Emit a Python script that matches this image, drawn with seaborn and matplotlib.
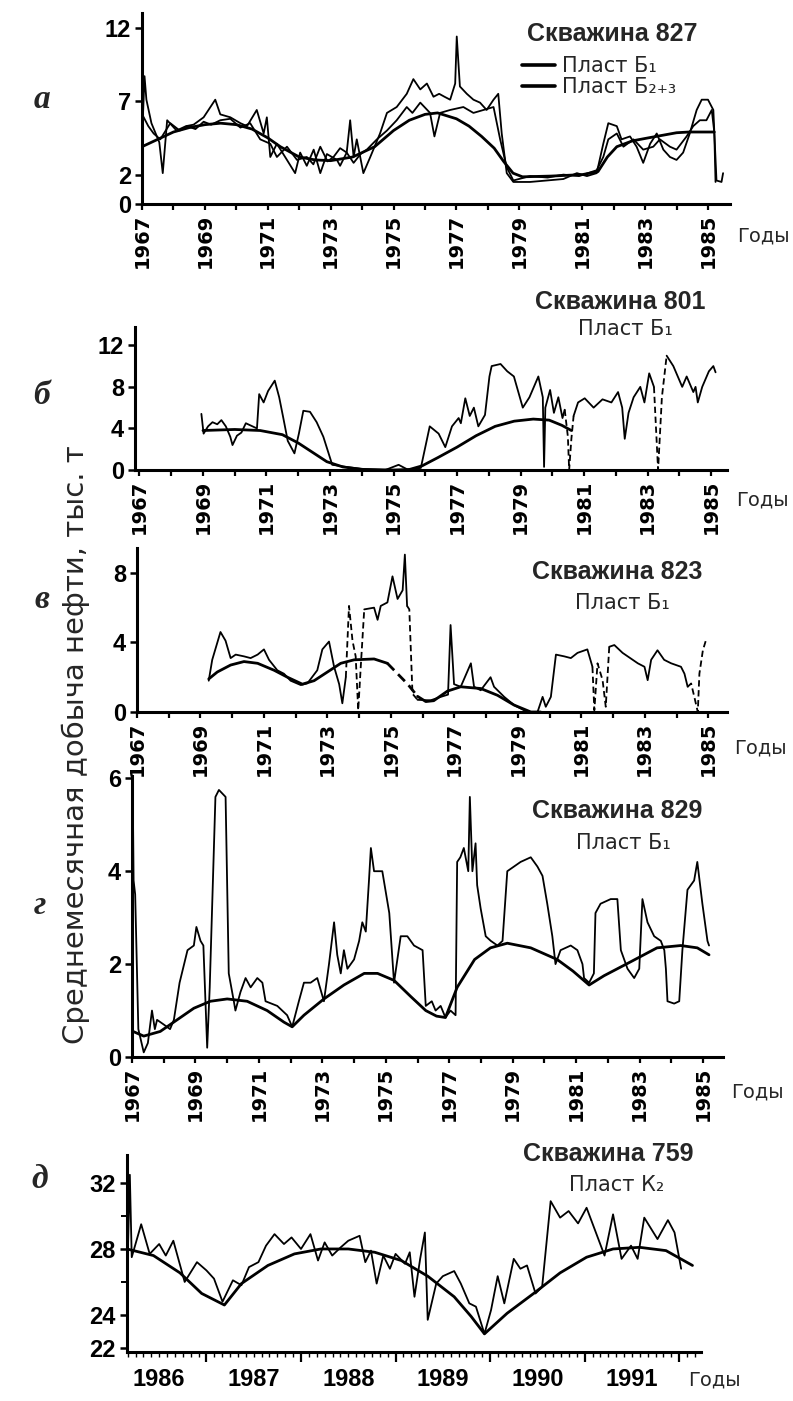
import numpy as np
import matplotlib
matplotlib.use("Agg")
import matplotlib.pyplot as plt
import seaborn as sns
from matplotlib.lines import Line2D
from matplotlib.ticker import FuncFormatter

# ---------------- data (year, value) ----------------
# Panel а: well 827
a_b1 = [(1967.03, 6.0), (1967.08, 8.7), (1967.14, 7.1), (1967.3, 5.5), (1967.55, 4.2), (1967.66, 2.1),
        (1967.8, 5.7), (1968.1, 5.0), (1968.4, 5.3), (1968.64, 5.4), (1968.96, 5.9), (1969.33, 7.1),
        (1969.49, 6.1), (1969.81, 5.9), (1970.13, 5.5), (1970.34, 5.3), (1970.65, 6.4), (1970.87, 4.8),
        (1970.97, 5.9), (1971.08, 3.2), (1971.29, 4.1), (1971.61, 3.0), (1971.87, 2.1), (1972.03, 3.5),
        (1972.24, 2.6), (1972.46, 3.7), (1972.67, 2.1), (1972.88, 3.4), (1973.2, 3.0), (1973.3, 2.6),
        (1973.51, 3.5), (1973.62, 5.7), (1973.73, 3.2), (1973.83, 4.4), (1974.04, 2.1), (1974.26, 3.2),
        (1974.57, 4.8), (1974.79, 6.2), (1975.1, 6.6), (1975.42, 7.5), (1975.63, 8.5), (1975.85, 7.8),
        (1976.06, 8.2), (1976.27, 7.3), (1976.45, 7.5), (1976.62, 7.3), (1976.8, 7.1), (1976.96, 8.2),
        (1977.01, 11.4), (1977.11, 8.0), (1977.33, 7.5), (1977.54, 7.1), (1977.75, 6.9), (1977.96, 6.4),
        (1978.18, 7.1), (1978.33, 7.5), (1978.44, 4.8), (1978.6, 2.1), (1978.81, 1.5), (1979.34, 1.5),
        (1979.87, 1.6), (1980.4, 1.7), (1980.83, 2.1), (1981.15, 1.9), (1981.46, 2.1), (1981.67, 4.1),
        (1981.83, 5.5), (1982.1, 5.3), (1982.25, 4.4), (1982.52, 4.6), (1982.73, 3.9), (1982.94, 2.8),
        (1983.16, 4.1), (1983.37, 4.8), (1983.58, 3.7), (1983.79, 3.2), (1984.0, 3.0), (1984.21, 3.5),
        (1984.42, 4.8), (1984.64, 6.4), (1984.8, 7.1), (1985.0, 7.1), (1985.17, 6.4), (1985.27, 1.6),
        (1985.43, 1.5), (1985.48, 2.1)]
a_b23 = [(1967.03, 6.0), (1967.2, 5.3), (1967.37, 4.8), (1967.58, 4.4), (1967.9, 5.5), (1968.2, 5.0),
         (1968.43, 5.3), (1968.7, 5.1), (1968.96, 5.6), (1969.2, 5.4), (1969.49, 5.7), (1969.81, 5.8),
         (1970.13, 5.2), (1970.44, 5.5), (1970.76, 4.4), (1971.08, 4.1), (1971.29, 3.2), (1971.61, 3.9),
         (1971.93, 3.0), (1972.24, 3.2), (1972.45, 2.7), (1972.67, 3.9), (1972.9, 2.9), (1973.09, 3.2),
         (1973.3, 3.8), (1973.51, 3.5), (1973.73, 2.8), (1973.95, 3.4), (1974.15, 3.7), (1974.47, 4.4),
         (1974.79, 5.0), (1975.1, 5.7), (1975.42, 6.6), (1975.6, 6.2), (1975.85, 6.9), (1976.16, 6.2),
         (1976.3, 4.6), (1976.48, 6.2), (1976.8, 6.4), (1977.22, 6.6), (1977.54, 6.2), (1977.86, 6.4),
         (1978.18, 6.6), (1978.39, 4.4), (1978.6, 2.5), (1978.81, 1.6), (1979.34, 1.9), (1979.9, 1.8),
         (1980.4, 2.0), (1980.9, 1.9), (1981.46, 2.3), (1981.67, 3.2), (1981.83, 4.4), (1982.1, 4.8),
         (1982.31, 3.9), (1982.63, 4.4), (1982.94, 3.7), (1983.26, 3.9), (1983.47, 4.4), (1983.79, 3.9),
         (1984.0, 3.7), (1984.32, 4.6), (1984.53, 5.3), (1984.74, 5.7), (1984.95, 5.7), (1985.12, 6.4),
         (1985.2, 4.9), (1985.24, 1.5)]
a_fit = [(1967.0, 3.9), (1967.5, 4.4), (1968.0, 4.9), (1968.5, 5.2), (1969.0, 5.4), (1969.5, 5.5),
         (1970.0, 5.4), (1970.5, 5.1), (1971.0, 4.5), (1971.4, 3.9), (1972.0, 3.2), (1972.5, 3.0),
         (1973.0, 2.95), (1973.7, 3.2), (1974.4, 3.9), (1975.0, 5.0), (1975.5, 5.7), (1976.0, 6.1),
         (1976.4, 6.2), (1977.0, 5.8), (1977.4, 5.3), (1977.8, 4.6), (1978.2, 3.8), (1978.5, 2.9),
         (1978.8, 2.1), (1979.1, 1.85), (1980.0, 1.9), (1981.0, 2.0), (1981.5, 2.2), (1981.8, 3.2),
         (1982.1, 3.9), (1982.6, 4.3), (1983.1, 4.5), (1984.0, 4.85), (1984.4, 4.9), (1985.2, 4.9)]

# Panel б: well 801
b_obs = [(1968.95, 5.4), (1969.02, 3.5), (1969.16, 4.2), (1969.3, 4.6), (1969.45, 4.4), (1969.58, 4.8),
         (1969.72, 4.2), (1969.86, 3.2), (1969.93, 2.4), (1970.07, 3.3), (1970.21, 3.6), (1970.35, 4.5),
         (1970.56, 4.2), (1970.7, 4.0), (1970.77, 7.3), (1970.91, 6.5), (1971.05, 7.6), (1971.26, 8.6),
         (1971.4, 7.0), (1971.53, 5.0), (1971.67, 2.8), (1971.88, 1.6), (1972.02, 3.5), (1972.16, 5.7),
         (1972.37, 5.6), (1972.58, 4.6), (1972.79, 3.2), (1973.07, 0.5), (1973.3, 0.4), (1973.49, 0.3),
         (1974.05, 0.1), (1974.74, 0.0), (1975.16, 0.5), (1975.44, 0.05), (1975.86, 0.2), (1976.14, 4.2),
         (1976.42, 3.5), (1976.63, 2.2), (1976.84, 4.2), (1977.05, 5.0), (1977.12, 4.5), (1977.26, 6.9),
         (1977.4, 5.2), (1977.53, 6.0), (1977.67, 4.2), (1977.88, 5.3), (1978.02, 9.0), (1978.09, 10.0),
         (1978.37, 10.2), (1978.58, 9.5), (1978.79, 9.0), (1978.93, 7.5), (1979.07, 6.0), (1979.28, 7.0),
         (1979.49, 8.5), (1979.56, 9.0), (1979.7, 7.0), (1979.74, 0.3), (1979.78, 6.0), (1979.93, 7.7),
         (1980.05, 5.5), (1980.19, 7.0), (1980.32, 5.0), (1980.39, 5.8)]
b_gap1 = [(1980.39, 5.8), (1980.49, 3.2), (1980.53, 0.0), (1980.6, 3.0), (1980.67, 5.2)]
b_obs2 = [(1980.67, 5.2), (1980.81, 6.5), (1981.02, 6.9), (1981.3, 6.0), (1981.58, 6.8), (1981.86, 6.5),
          (1982.07, 7.5), (1982.2, 6.0), (1982.28, 3.0), (1982.4, 5.5), (1982.56, 7.0), (1982.77, 8.0),
          (1982.9, 6.5), (1983.05, 9.3), (1983.2, 8.0)]
b_gap2 = [(1983.2, 8.0), (1983.33, 0.0), (1983.45, 7.0), (1983.6, 11.0)]
b_obs3 = [(1983.6, 11.0), (1983.81, 10.0), (1983.95, 9.0), (1984.09, 8.0), (1984.23, 9.0), (1984.44, 7.5),
          (1984.51, 8.0), (1984.58, 6.5), (1984.72, 8.0), (1984.93, 9.5), (1985.07, 10.0), (1985.14, 9.4)]
b_fit = [(1969.0, 3.8), (1969.5, 3.85), (1970.0, 3.9), (1970.8, 3.8), (1971.5, 3.4), (1972.0, 2.6),
         (1972.4, 1.8), (1972.9, 0.8), (1973.4, 0.3), (1974.0, 0.05), (1975.0, 0.0), (1975.5, 0.05),
         (1975.9, 0.4), (1976.4, 1.2), (1977.0, 2.2), (1977.6, 3.3), (1978.2, 4.2), (1978.8, 4.7),
         (1979.4, 4.9), (1979.9, 4.8), (1980.3, 4.3), (1980.6, 3.8)]

# Panel в: well 823
c_obs1 = [(1969.26, 1.8), (1969.37, 3.0), (1969.63, 4.6), (1969.79, 4.1), (1969.95, 3.1), (1970.11, 3.3),
          (1970.37, 3.2), (1970.58, 3.1), (1970.8, 3.3), (1971.0, 3.6), (1971.16, 3.0), (1971.42, 2.4),
          (1971.63, 2.2), (1971.84, 1.8), (1972.16, 1.55), (1972.37, 1.65), (1972.68, 2.4), (1972.84, 3.6),
          (1973.05, 4.05), (1973.21, 2.6), (1973.37, 1.6), (1973.47, 0.5), (1973.58, 2.0)]
c_gap1 = [(1973.58, 2.0), (1973.68, 6.1), (1973.79, 4.1), (1973.89, 3.2), (1973.97, 0.1), (1974.05, 2.6),
          (1974.16, 5.9)]
c_obs2 = [(1974.16, 5.9), (1974.47, 6.0), (1974.58, 5.3), (1974.68, 6.1), (1974.89, 6.3), (1975.05, 7.8),
          (1975.21, 6.5), (1975.37, 7.0), (1975.44, 9.05), (1975.51, 6.1)]
c_gap2 = [(1975.51, 6.1), (1975.58, 5.9), (1975.68, 1.05), (1975.84, 0.7)]
c_obs3 = [(1975.84, 0.7), (1976.25, 0.67), (1976.57, 0.87), (1976.8, 1.0), (1976.88, 5.0), (1976.99, 1.6),
          (1977.2, 1.45), (1977.52, 2.8), (1977.62, 1.45), (1977.83, 1.25), (1978.14, 2.0), (1978.25, 1.45),
          (1978.57, 0.87), (1978.88, 0.4), (1979.3, 0.0), (1979.62, 0.0), (1979.78, 0.87), (1979.88, 0.3),
          (1980.04, 0.87), (1980.2, 3.3), (1980.46, 3.2), (1980.67, 3.1), (1980.88, 3.4), (1981.19, 3.6),
          (1981.35, 2.6)]
c_gap3 = [(1981.35, 2.6), (1981.41, 0.1), (1981.51, 2.8), (1981.67, 1.83), (1981.77, 0.3), (1981.88, 3.75)]
c_obs4 = [(1981.88, 3.75), (1982.04, 3.85), (1982.3, 3.4), (1982.46, 3.2), (1982.78, 2.8), (1982.99, 2.6),
          (1983.09, 1.83), (1983.2, 3.0), (1983.4, 3.55), (1983.61, 3.0), (1983.83, 2.8), (1984.14, 2.6),
          (1984.25, 2.2), (1984.35, 1.45)]
c_gap4 = [(1984.35, 1.45), (1984.46, 1.64), (1984.56, 0.87), (1984.67, 0.0), (1984.72, 2.2), (1984.83, 3.55),
          (1984.93, 4.15)]
c_fit1 = [(1969.26, 1.9), (1969.53, 2.3), (1969.95, 2.7), (1970.37, 2.9), (1970.8, 2.8), (1971.32, 2.4),
          (1971.74, 2.0), (1972.21, 1.6), (1972.58, 1.8), (1973.0, 2.3), (1973.42, 2.8), (1973.84, 3.0),
          (1974.47, 3.05), (1974.89, 2.8)]
c_fit_gap = [(1974.89, 2.8), (1975.21, 2.2), (1975.53, 1.6), (1975.84, 0.9)]
c_fit2 = [(1975.84, 0.9), (1976.1, 0.6), (1976.35, 0.65), (1976.78, 1.2), (1977.2, 1.45), (1977.83, 1.35),
          (1978.36, 0.96), (1978.88, 0.4), (1979.41, 0.0), (1979.72, 0.0)]

# Panel г: well 829
g_obs = [(1967.0, 0.55), (1967.02, 6.0), (1967.05, 3.8), (1967.1, 3.5), (1967.2, 0.6), (1967.37, 0.1),
         (1967.5, 0.3), (1967.63, 1.0), (1967.72, 0.6), (1967.79, 0.8), (1968.0, 0.7), (1968.2, 0.6),
         (1968.32, 0.8), (1968.5, 1.6), (1968.75, 2.3), (1968.95, 2.4), (1969.03, 2.8), (1969.16, 2.5),
         (1969.25, 2.4), (1969.37, 0.2), (1969.45, 1.5), (1969.63, 5.6), (1969.74, 5.75), (1969.95, 5.6),
         (1970.05, 1.8), (1970.21, 1.2), (1970.26, 1.0), (1970.42, 1.4), (1970.58, 1.7), (1970.74, 1.5),
         (1970.95, 1.7), (1971.11, 1.6), (1971.21, 1.2), (1971.58, 1.1), (1971.89, 0.9), (1972.05, 0.65),
         (1972.26, 1.2), (1972.42, 1.6), (1972.63, 1.6), (1972.84, 1.7), (1973.05, 1.2), (1973.21, 2.0),
         (1973.37, 2.9), (1973.47, 2.2), (1973.58, 1.8), (1973.68, 2.3), (1973.79, 1.9), (1974.0, 2.1),
         (1974.16, 2.5), (1974.26, 2.9), (1974.37, 2.7), (1974.47, 3.8), (1974.53, 4.5), (1974.63, 4.0),
         (1974.89, 4.0), (1975.11, 3.1), (1975.26, 1.6), (1975.47, 2.6), (1975.68, 2.6), (1975.89, 2.4),
         (1976.16, 2.3), (1976.26, 1.1), (1976.45, 1.2), (1976.57, 1.0), (1976.73, 1.1), (1976.88, 0.85),
         (1977.04, 1.0), (1977.2, 0.9), (1977.25, 4.2), (1977.35, 4.3), (1977.46, 4.5), (1977.6, 4.0),
         (1977.65, 5.6), (1977.73, 4.0), (1977.83, 4.6), (1977.88, 3.7), (1977.99, 3.2), (1978.15, 2.6),
         (1978.31, 2.5), (1978.52, 2.4), (1978.68, 2.5), (1978.83, 4.0), (1979.04, 4.1), (1979.25, 4.2),
         (1979.57, 4.3), (1979.78, 4.1), (1979.94, 3.9), (1980.09, 3.3), (1980.25, 2.6), (1980.35, 2.0),
         (1980.51, 2.3), (1980.83, 2.4), (1981.04, 2.3), (1981.2, 2.0), (1981.25, 1.7), (1981.41, 1.6),
         (1981.56, 1.8), (1981.61, 3.1), (1981.77, 3.3), (1982.09, 3.4), (1982.3, 3.4), (1982.41, 2.3),
         (1982.62, 1.9), (1982.83, 1.7), (1982.99, 1.9), (1983.09, 3.4), (1983.25, 2.9), (1983.46, 2.6),
         (1983.67, 2.5), (1983.78, 2.3), (1983.83, 1.9), (1983.88, 1.2), (1984.09, 1.15), (1984.25, 1.2),
         (1984.35, 2.3), (1984.51, 3.6), (1984.72, 3.8), (1984.82, 4.2), (1984.98, 3.3), (1985.14, 2.5),
         (1985.19, 2.4)]
g_fit = [(1967.0, 0.56), (1967.37, 0.45), (1967.89, 0.55), (1968.42, 0.8), (1968.95, 1.05), (1969.47, 1.2),
         (1970.0, 1.25), (1970.63, 1.2), (1971.26, 1.0), (1971.79, 0.75), (1972.05, 0.65), (1972.42, 0.9),
         (1973.05, 1.25), (1973.68, 1.55), (1974.32, 1.8), (1974.74, 1.8), (1975.26, 1.65), (1975.79, 1.3),
         (1976.26, 1.0), (1976.6, 0.88), (1976.88, 0.85), (1977.25, 1.5), (1977.8, 2.1), (1978.3, 2.35),
         (1978.83, 2.45), (1979.57, 2.35), (1980.4, 2.1), (1980.9, 1.85), (1981.41, 1.55), (1981.88, 1.75),
         (1982.72, 2.05), (1983.55, 2.35), (1984.3, 2.4), (1984.82, 2.35), (1985.19, 2.2)]

# Panel д: well 759
d_obs = [(1986.17, 28.0), (1986.19, 32.5), (1986.21, 27.5), (1986.31, 29.5), (1986.4, 27.7), (1986.5, 28.3),
         (1986.57, 27.6), (1986.65, 28.5), (1986.77, 26.0), (1986.9, 27.2), (1987.0, 26.7), (1987.08, 26.2),
         (1987.17, 24.8), (1987.28, 26.1), (1987.37, 25.8), (1987.45, 26.9), (1987.55, 27.2), (1987.63, 28.2),
         (1987.72, 28.9), (1987.82, 28.3), (1987.9, 28.7), (1988.0, 28.0), (1988.1, 28.9), (1988.18, 27.3),
         (1988.25, 28.4), (1988.33, 27.6), (1988.42, 28.1), (1988.5, 28.5), (1988.62, 28.8), (1988.68, 27.2),
         (1988.74, 27.9), (1988.8, 25.9), (1988.87, 27.6), (1988.94, 26.8), (1989.0, 27.7), (1989.1, 27.1),
         (1989.15, 27.8), (1989.2, 25.1), (1989.26, 27.4), (1989.31, 29.0), (1989.34, 23.7), (1989.43, 25.9),
         (1989.5, 26.35), (1989.62, 26.66), (1989.69, 25.9), (1989.78, 24.7), (1989.85, 24.5), (1989.94, 22.85),
         (1990.01, 24.3), (1990.08, 26.35), (1990.15, 24.7), (1990.25, 27.4), (1990.32, 26.8), (1990.39, 27.0),
         (1990.48, 25.3), (1990.55, 25.7), (1990.64, 30.9), (1990.74, 29.9), (1990.83, 30.3), (1990.93, 29.55),
         (1991.02, 30.5), (1991.21, 27.6), (1991.3, 30.1), (1991.39, 27.4), (1991.49, 28.2), (1991.56, 27.4),
         (1991.63, 29.9), (1991.77, 28.6), (1991.88, 29.75), (1991.95, 29.0), (1992.02, 26.8)]
d_fit = [(1986.16, 28.0), (1986.44, 27.6), (1986.72, 26.55), (1986.95, 25.3), (1987.19, 24.6), (1987.37, 25.9),
         (1987.65, 27.0), (1987.93, 27.7), (1988.21, 28.0), (1988.5, 28.0), (1988.78, 27.8), (1989.06, 27.3),
         (1989.34, 26.35), (1989.62, 25.1), (1989.8, 23.9), (1989.94, 22.85), (1990.18, 24.1), (1990.46, 25.3),
         (1990.74, 26.55), (1991.02, 27.5), (1991.3, 28.0), (1991.58, 28.1), (1991.86, 27.9), (1992.14, 27.0)]

# texts
wells = ["Скважина 827", "Скважина 801", "Скважина 823", "Скважина 829", "Скважина 759"]
layers = ["Пласт Б₁", "Пласт Б₁", "Пласт Б₁", "Пласт К₂"]
legend_labels = ["Пласт Б₁", "Пласт Б₂₊₃"]
panel_letters = ["а", "б", "в", "г", "д"]
y_title = "Среднемесячная добыча нефти, тыс. т"
x_unit = "Годы"
years_old = list(range(1967, 1986))
years_new = [1986, 1987, 1988, 1989, 1990, 1991]

# ---------------- figure ----------------
sns.set_style("ticks")
plt.rcParams['font.family'] = ['DejaVu Sans']
plt.rcParams['lines.dashed_pattern'] = [3.5, 2.0]
plt.rcParams['axes.edgecolor'] = 'black'
plt.rcParams['xtick.color'] = 'black'
plt.rcParams['ytick.color'] = 'black'

W, H = 793, 1401
fig = plt.figure(figsize=(W / 100, H / 100), dpi=100)
fig.patch.set_facecolor('white')
NARROW = ['Liberation Sans', 'DejaVu Sans']


def px_box(l, r, t, b):
    return [l / W, 1 - b / H, (r - l) / W, (b - t) / H]


def draw(ax, pts, lw=1.3, ls='-'):
    xs = [p[0] for p in pts]
    ys = [p[1] for p in pts]
    sns.lineplot(x=xs, y=ys, ax=ax, color='black', linewidth=lw, linestyle=ls,
                 estimator=None, sort=False, legend=False)


def base_axes(box, xlim, ylim, yticks):
    ax = fig.add_axes(px_box(*box))
    ax.set_xlim(*xlim)
    ax.set_ylim(*ylim)
    for s in ('top', 'right'):
        ax.spines[s].set_visible(False)
    for s in ('left', 'bottom'):
        ax.spines[s].set_linewidth(2.2)
    ax.set_yticks(yticks)
    ax.set_yticklabels([str(v) for v in yticks], fontfamily=NARROW, fontweight='bold', fontsize=17)
    ax.tick_params(axis='y', direction='out', length=5, width=1.8, pad=3)
    ax.patch.set_alpha(0)
    return ax


def old_year_axis(ax):
    ax.set_xticks(years_old)
    ax.set_xticklabels([str(y) if y % 2 else '' for y in years_old], rotation=90,
                       fontweight='bold', fontsize=14)
    ax.tick_params(axis='x', direction='out', length=4, width=1.6, pad=3)


def finish(ax):
    ax.set_xlabel('')
    ax.set_ylabel('')


# panel а
ax_a = base_axes((142, 730, 13, 204), (1967, 1985.7), (0, 13.0), [0, 2, 7, 12])
draw(ax_a, a_b1)
draw(ax_a, a_b23)
draw(ax_a, a_fit, 2.0)
old_year_axis(ax_a)
finish(ax_a)
handles = [Line2D([0], [0], color='black', lw=2.6), Line2D([0], [0], color='black', lw=2.6)]
ax_a.legend(handles, legend_labels, loc='upper left', bbox_to_anchor=(522 / W, 1 - 56 / H),
            bbox_transform=fig.transFigure, frameon=False, fontsize=15, handlelength=1.6,
            handletextpad=0.3, labelspacing=0.05, borderpad=0, borderaxespad=0)

# panel б
ax_b = base_axes((135, 727, 327, 470), (1966.86, 1985.5), (0, 13.76), [0, 4, 8, 12])
draw(ax_b, b_obs)
draw(ax_b, b_gap1, ls='--')
draw(ax_b, b_obs2)
draw(ax_b, b_gap2, ls='--')
draw(ax_b, b_obs3)
draw(ax_b, b_fit, 2.0)
old_year_axis(ax_b)
finish(ax_b)

# panel в
ax_c = base_axes((137, 727, 548, 712), (1967, 1985.59), (0, 9.43), [0, 4, 8])
for seg in (c_obs1, c_obs2, c_obs3, c_obs4):
    draw(ax_c, seg)
for seg in (c_gap1, c_gap2, c_gap3, c_gap4):
    draw(ax_c, seg, ls='--')
draw(ax_c, c_fit1, 2.0)
draw(ax_c, c_fit_gap, 2.0, '--')
draw(ax_c, c_fit2, 2.0)
old_year_axis(ax_c)
finish(ax_c)

# panel г
ax_g = base_axes((132, 723, 776, 1057), (1967, 1985.63), (0, 6.05), [0, 2, 4, 6])
draw(ax_g, g_obs)
draw(ax_g, g_fit, 2.0)
old_year_axis(ax_g)
finish(ax_g)

# panel д
ax_d = base_axes((127, 701, 1155, 1352), (1986.16, 1992.23), (21.75, 33.7), [22, 24, 28, 32])
ax_d.set_yticks([26, 30], minor=True)
ax_d.tick_params(axis='y', which='minor', direction='out', length=4, width=1.4)
draw(ax_d, d_obs)
draw(ax_d, d_fit, 2.0)
ax_d.set_xticks([y + 1 for y in years_new])
ax_d.set_xticklabels([])
ax_d.set_xticks(np.arange(1986 + 2 / 12, 1992.24, 1 / 12), minor=True)
ax_d.xaxis.set_minor_formatter(FuncFormatter(
    lambda v, p: str(int(round(v - 0.5))) if abs((v - np.floor(v)) - 0.5) < 0.01 else ''))
ax_d.tick_params(axis='x', which='major', direction='out', length=7, width=1.6)
ax_d.tick_params(axis='x', which='minor', direction='out', length=3.5, width=1.0, pad=8, labelsize=17)
for t in ax_d.xaxis.get_minor_ticks():
    t.label1.set_fontfamily(NARROW)
    t.label1.set_fontweight('bold')
finish(ax_d)

# ---------------- annotations ----------------
TITLE_FONT = ['Liberation Sans', 'DejaVu Sans']
title_pos = [(612, 34), (620, 302), (617, 572), (617, 811), (608, 1154)]
for txt, (cx, cy) in zip(wells, title_pos):
    fig.text(cx / W, 1 - cy / H, txt, fontsize=18, fontweight='bold', family=TITLE_FONT,
             ha='center', va='center')
layer_pos = [(625, 329), (622, 603), (623, 843), (617, 1185)]
for txt, (cx, cy) in zip(layers, layer_pos):
    fig.text(cx / W, 1 - cy / H, txt, fontsize=15, ha='center', va='center')

unit_pos = [(737, 236), (736, 500), (734, 748), (731, 1092), (688, 1380)]
for (lx, cy) in unit_pos:
    fig.text(lx / W, 1 - cy / H, x_unit, fontsize=14, ha='left', va='center')

letter_pos = [(42, 100), (42, 395), (42, 600), (40, 905), (40, 1180)]
for txt, (cx, cy) in zip(panel_letters, letter_pos):
    fig.text(cx / W, 1 - cy / H, txt, fontsize=24, fontweight='bold', style='italic',
             family=['Liberation Serif', 'DejaVu Serif'], ha='center', va='center')

fig.text(76 / W, 1 - 745 / H, y_title, rotation=90, fontsize=21, ha='center', va='center')

fig.savefig("out.png", dpi=100, facecolor='white')
